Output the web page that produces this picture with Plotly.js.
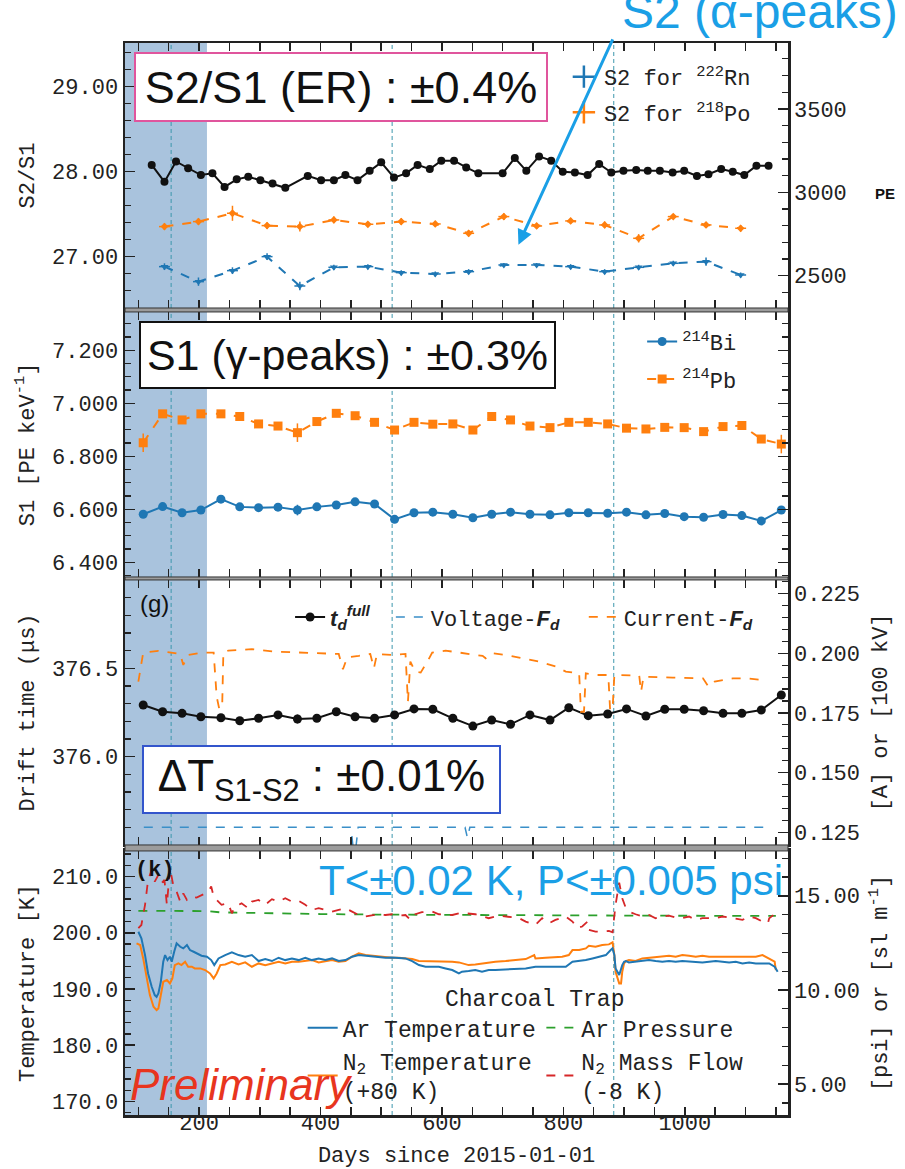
<!DOCTYPE html>
<html><head><meta charset="utf-8">
<script src="https://cdn.plot.ly/plotly-3.0.1.min.js"></script>
<style>html,body{margin:0;padding:0;background:#fff}#chart{width:905px;height:1169px}</style>
</head><body><div id="chart"></div>
<script>
// ---------- Panel 1: S2/S1 and S2 alpha peaks ----------
const ratioDays = [122,143,162,182,203,222,242,262,281,301,321,342,379,401,422,441,461,481,500,521,541,560,580,599,620,640,660,700,720,739,760,780,799,819,840,859,879,899,920,939,959,980,999,1020,1039,1060,1079,1098,1118,1138];
const ratioVals = [28.08,27.88,28.12,28.04,27.96,27.98,27.82,27.91,27.94,27.90,27.86,27.81,27.95,27.90,27.90,27.96,27.90,28.01,28.11,27.93,27.98,28.08,28.03,28.13,28.13,28.05,27.98,27.98,28.16,28.01,28.18,28.13,28.00,27.99,27.96,28.09,27.99,28.01,28.02,28.01,28.01,27.99,28.01,27.95,27.97,28.03,28.00,27.96,28.07,28.07];
const s2Days = [143,199,255,312,366,422,478,533,589,644,702,756,812,868,924,981,1035,1092];
const s2Po  = [2794,2824,2874,2800,2794,2834,2808,2824,2810,2754,2854,2798,2828,2804,2724,2854,2804,2784];
const s2PoErr = [20,20,45,20,30,20,15,20,15,20,20,15,15,20,25,15,15,20];
const s2Rn  = [2554,2464,2530,2614,2438,2550,2554,2518,2510,2524,2564,2564,2554,2524,2550,2574,2584,2504];
const s2RnErr = [20,25,20,20,25,15,15,15,15,15,12,12,15,15,15,15,25,15];

// ---------- Panel 2: S1 gamma peaks ----------
const gDays = [108,140,172,203,236,267,298,330,362,394,426,457,489,522,554,585,618,651,682,713,745,778,809,841,873,904,936,967,999,1031,1063,1094,1126,1159];
const bi214 = [6.581,6.610,6.587,6.597,6.638,6.609,6.606,6.608,6.597,6.609,6.616,6.628,6.620,6.562,6.587,6.589,6.581,6.568,6.581,6.589,6.581,6.579,6.587,6.587,6.585,6.589,6.579,6.584,6.572,6.570,6.580,6.576,6.556,6.597];
const bi214Err = [0.01,0.008,0.008,0.008,0.008,0.008,0.008,0.008,0.02,0.008,0.008,0.008,0.008,0.008,0.008,0.008,0.008,0.008,0.008,0.008,0.008,0.008,0.008,0.008,0.008,0.008,0.008,0.008,0.008,0.008,0.008,0.008,0.01,0.012];
const pb214 = [6.851,6.960,6.937,6.960,6.960,6.950,6.922,6.914,6.889,6.931,6.962,6.953,6.928,6.899,6.928,6.921,6.922,6.899,6.950,6.937,6.914,6.908,6.928,6.928,6.922,6.906,6.903,6.909,6.908,6.893,6.912,6.916,6.865,6.846];
const pb214Err = [0.035,0.01,0.01,0.01,0.01,0.01,0.01,0.01,0.035,0.01,0.01,0.01,0.01,0.012,0.01,0.01,0.01,0.01,0.01,0.01,0.01,0.01,0.01,0.01,0.01,0.01,0.01,0.01,0.01,0.01,0.01,0.01,0.015,0.035];

// ---------- Panel 3: drift time and drift field ----------
const driftTime = [376.292,376.254,376.245,376.226,376.220,376.203,376.217,376.236,376.213,376.217,376.254,376.226,376.217,376.236,376.270,376.268,376.217,376.173,376.207,376.183,376.236,376.207,376.277,376.232,376.241,376.270,376.230,376.268,376.268,376.260,376.245,376.245,376.264,376.349];
const driftErr = [0.012,0.01,0.01,0.01,0.01,0.01,0.01,0.01,0.025,0.01,0.01,0.01,0.01,0.01,0.01,0.01,0.01,0.01,0.01,0.01,0.01,0.01,0.01,0.01,0.01,0.01,0.01,0.01,0.01,0.01,0.01,0.01,0.01,0.015];
const curDays = [100,108,133,155,169,174,182,205,224,229,233,238,240,248,287,325,364,408,430,437,444,463,482,488,493,518,540,544,548,556,565,576,584,606,628,644,667,672,683,705,733,760,788,804,826,829,834,837,854,874,877,881,884,925,928,932,980,1030,1039,1049,1079,1101,1129];
const curVals = [0.1881,0.2003,0.2010,0.2003,0.1997,0.1951,0.1993,0.2003,0.2003,0.1818,0.1770,0.1770,0.2003,0.2011,0.2017,0.2007,0.2003,0.2000,0.1997,0.1933,0.1983,0.1989,0.1997,0.1937,0.1997,0.1993,0.1997,0.1797,0.1965,0.1923,0.1919,0.1965,0.2003,0.2011,0.2003,0.2000,0.1989,0.1979,0.2000,0.1993,0.1979,0.1965,0.1944,0.1923,0.1916,0.1755,0.1755,0.1916,0.1909,0.1909,0.1763,0.1763,0.1909,0.1906,0.1839,0.1902,0.1898,0.1895,0.1860,0.1881,0.1895,0.1895,0.1888];
const voltDays = [109,450,454,458,462,466,638,642,646,1134];
const voltVals = [0.1271,0.1271,0.118,0.118,0.1271,0.1271,0.1271,0.1227,0.1271,0.1271];

// ---------- Panel 4: charcoal trap ----------
const arTDays = [100,105,111,116,122,127,130,133,137,141,144,148,152,155,159,163,169,174,180,185,191,196,204,213,220,225,232,243,254,265,276,287,298,309,320,331,342,353,364,375,386,397,408,419,430,441,452,463,474,485,496,507,518,529,540,551,562,573,584,595,606,617,628,633,644,655,666,677,688,705,721,738,754,771,787,804,815,826,837,848,859,870,878,881,884,886,892,897,900,903,908,919,930,941,952,963,974,985,996,1007,1018,1029,1040,1051,1062,1073,1084,1095,1106,1117,1128,1139,1148,1153];
const arTemp = [200.18,199.0,196.03,192.77,190.4,188.92,188.62,189.22,191.29,194.85,196.03,195.14,195.74,194.85,196.62,198.11,197.51,197.22,197.81,196.92,196.62,196.33,195.91,195.74,195.14,194.25,195.44,196.03,196.51,196.03,195.74,196.03,194.97,195.32,194.97,195.56,195.14,195.44,195.14,195.56,195.14,195.44,195.14,195.44,194.97,195.14,195.74,196.03,195.91,195.74,195.68,195.56,195.62,195.56,195.44,194.97,194.25,193.96,193.96,193.96,193.66,193.37,192.77,193.07,193.19,193.37,193.07,193.37,193.37,193.48,193.66,193.66,193.96,193.96,193.96,193.96,194.85,194.97,195.14,195.44,195.74,196.03,196.92,197.22,196.03,193.66,192.48,194.25,194.85,194.97,194.73,194.85,194.97,195.14,194.97,194.85,194.97,194.85,194.97,194.85,194.85,194.73,194.85,194.97,194.85,194.73,194.85,194.55,194.73,194.55,194.55,194.55,193.96,193.07];
const n2TDays = [97,103,108,114,119,125,130,133,137,141,147,152,156,160,166,171,177,182,188,193,202,210,218,224,229,235,243,254,265,276,287,298,309,320,331,342,353,364,375,386,397,408,419,430,441,452,463,474,485,496,507,518,529,540,551,562,573,584,595,606,617,628,633,644,655,666,677,688,705,721,738,752,754,771,787,798,809,815,826,837,842,853,864,875,881,884,886,892,895,897,900,903,908,919,930,941,952,963,974,985,996,1007,1018,1029,1040,1051,1062,1073,1084,1095,1106,1117,1128,1139,1148,1150];
const n2Temp = [198.11,197.81,195.44,191.88,188.92,186.85,186.25,186.55,188.92,191.29,191.59,190.99,191.88,194.25,194.55,194.25,194.85,193.96,193.96,193.66,193.66,193.37,192.77,191.88,192.77,194.25,194.37,194.85,194.37,194.73,193.96,194.55,194.25,194.55,194.85,194.55,194.85,194.85,194.97,195.14,194.73,194.97,195.14,194.85,194.97,195.74,196.33,196.03,195.91,195.74,195.74,195.56,195.56,195.44,195.32,194.97,194.97,194.97,194.85,194.97,194.85,194.73,194.55,194.25,194.37,194.55,194.73,194.85,194.97,195.14,195.32,196.03,195.44,195.56,195.74,195.74,196.03,196.92,196.92,197.22,197.69,197.51,197.81,197.93,198.28,196.03,193.07,191.0,191.0,193.07,194.55,194.97,195.14,194.97,195.44,195.56,195.74,195.74,195.91,195.74,196.03,195.91,195.74,195.91,195.74,195.74,195.74,195.74,195.74,195.74,195.85,195.74,196.03,195.44,194.85,193.37];
const flowDays = [100,105,111,116,122,127,133,138,143,147,152,158,163,169,174,180,188,196,207,215,220,224,229,237,248,254,259,270,281,287,298,309,320,331,342,353,364,375,386,397,408,419,430,441,452,463,474,485,496,507,518,529,540,548,556,567,584,595,606,617,628,639,655,677,694,710,727,738,754,765,776,787,804,815,823,831,840,842,853,864,875,881,884,886,892,897,903,908,919,930,941,952,963,974,985,996,1007,1018,1029,1040,1051,1062,1073,1084,1095,1106,1117,1128,1137,1139,1150];
const flowVals = [13.28,13.45,14.52,15.84,16.37,15.75,16.11,15.67,15.84,14.52,16.46,15.49,15.22,14.69,15.13,14.78,14.96,14.90,15.08,15.22,15.49,14.96,14.78,14.52,14.60,14.07,14.43,14.60,14.34,14.69,14.78,14.52,14.82,14.69,14.87,14.69,14.73,14.52,14.25,14.34,14.25,14.16,14.25,14.34,14.16,13.98,13.90,13.95,14.02,13.98,14.02,13.95,13.98,13.72,14.02,14.13,14.16,14.02,13.98,13.98,14.07,14.07,14.02,13.81,13.95,13.90,13.81,13.63,13.45,13.81,13.54,13.72,13.90,13.63,13.28,13.37,13.63,13.19,13.10,13.10,13.13,13.06,13.98,14.52,15.70,14.87,14.34,14.16,14.02,13.90,13.98,13.81,13.90,13.95,13.84,13.81,13.90,13.72,13.81,13.81,13.81,13.90,13.84,13.81,13.72,13.90,13.81,13.63,13.54,13.81,14.07];
const presDays = [100,150,215,235,300,400,500,600,700,800,900,1000,1100,1150];
const presVals = [14.20,14.20,14.19,14.12,14.08,14.03,14.00,13.98,13.97,13.96,13.95,13.94,13.93,13.93];

// ---------- Marked periods ----------
const shadeDays = [78, 213];
const eventDays = [154, 518, 883];
const xRange = [78, 1170];

const mono = 'Liberation Mono, Courier New, monospace';
const sans = 'Liberation Sans, Arial, sans-serif';
const black = '#111111', orange = '#ff7f0e', blue = '#1f77b4', green = '#2ca02c', red = '#d62728';
const cyan = '#1a9fe6';
const tickFont = {family: mono, size: 22, color: '#222'};
const titleFont = {family: mono, size: 22, color: '#222'};

function xax(anchor, labels) {
  return {
    anchor: anchor, range: xRange, showgrid: false, zeroline: false,
    showline: true, linecolor: '#222', linewidth: 2.5, mirror: 'allticks',
    ticks: 'inside', ticklen: 8, tickwidth: 1.5, tickcolor: '#222',
    tick0: 0, dtick: 200, showticklabels: labels, tickfont: tickFont,
    minor: {tick0: 0, dtick: 50, ticks: 'inside', ticklen: 8, tickwidth: 1.5, tickcolor: '#222'}
  };
}
function yax(o) {
  return Object.assign({
    showgrid: false, zeroline: false, automargin: false,
    ticks: 'inside', ticklen: 10, tickwidth: 1.5, tickcolor: '#222', tickfont: tickFont
  }, o);
}
const sansFd = '<span style="font-family:Liberation Sans"><b><i>F<sub>d</sub></i></b></span>';

const traces = [
  // panel 1
  {x: ratioDays, y: ratioVals, xaxis: 'x', yaxis: 'y', mode: 'lines+markers', showlegend: false,
   line: {color: black, width: 2}, marker: {color: black, size: 8},
   error_y: {type: 'constant', value: 0.02, thickness: 1.5, width: 0, color: black}},
  {x: s2Days, y: s2Po, xaxis: 'x', yaxis: 'y2', mode: 'lines+markers', showlegend: false,
   line: {color: orange, width: 2, dash: 'dash'}, marker: {color: orange, size: 6, symbol: 'diamond'},
   error_y: {type: 'data', array: s2PoErr, thickness: 1.5, width: 0, color: orange},
   error_x: {type: 'constant', value: 9, thickness: 1.5, width: 0, color: orange}},
  {x: s2Days, y: s2Rn, xaxis: 'x', yaxis: 'y2', mode: 'lines+markers', showlegend: false,
   line: {color: blue, width: 2, dash: 'dash'}, marker: {color: blue, size: 7, symbol: 'triangle-down'},
   error_y: {type: 'data', array: s2RnErr, thickness: 1.5, width: 0, color: blue},
   error_x: {type: 'constant', value: 9, thickness: 1.5, width: 0, color: blue}},
  {x: [null], y: [null], xaxis: 'x', yaxis: 'y2', mode: 'markers', name: 'S2 for <sup>222</sup>Rn',
   legend: 'legend', legendgroup: 'rn', marker: {symbol: 'cross-thin', size: 16, line: {width: 2.5, color: blue}}},
  {x: [null], y: [null], xaxis: 'x', yaxis: 'y2', mode: 'markers', name: 'S2 for <sup>218</sup>Po',
   legend: 'legend', legendgroup: 'po', marker: {symbol: 'cross-thin', size: 16, line: {width: 2.5, color: orange}}},
  // panel 2
  {x: gDays, y: bi214, xaxis: 'x2', yaxis: 'y3', mode: 'lines+markers', name: '<sup>214</sup>Bi',
   legend: 'legend2', legendgroup: 'bi', line: {color: blue, width: 2}, marker: {color: blue, size: 9},
   error_y: {type: 'data', array: bi214Err, thickness: 1.5, width: 0, color: blue}},
  {x: gDays, y: pb214, xaxis: 'x2', yaxis: 'y3', mode: 'lines+markers', name: '<sup>214</sup>Pb',
   legend: 'legend2', legendgroup: 'pb', line: {color: orange, width: 2, dash: 'dash'}, marker: {color: orange, size: 9, symbol: 'square'},
   error_y: {type: 'data', array: pb214Err, thickness: 1.5, width: 0, color: orange}},
  // panel 3
  {x: voltDays, y: voltVals, xaxis: 'x3', yaxis: 'y5', mode: 'lines',
   name: 'Voltage-' + sansFd, legend: 'legend6', line: {color: '#3a8fc8', width: 1.5, dash: 'dash'}},
  {x: curDays, y: curVals, xaxis: 'x3', yaxis: 'y5', mode: 'lines',
   name: 'Current-' + sansFd, legend: 'legend7', line: {color: orange, width: 1.8, dash: 'dash'}},
  {x: gDays, y: driftTime, xaxis: 'x3', yaxis: 'y4', mode: 'lines+markers',
   name: '<span style="font-family:Liberation Sans"><b><i>t<sub>d</sub><sup>full</sup></i></b></span>',
   legend: 'legend3', line: {color: black, width: 2}, marker: {color: black, size: 9},
   error_y: {type: 'data', array: driftErr, thickness: 1.5, width: 0, color: black}},
  // panel 4
  {x: presDays, y: presVals, xaxis: 'x4', yaxis: 'y7', mode: 'lines', name: 'Ar Pressure',
   legend: 'legend5', legendrank: 1, line: {color: green, width: 1.8, dash: 'dash'}},
  {x: flowDays, y: flowVals, xaxis: 'x4', yaxis: 'y7', mode: 'lines', name: 'N<sub>2</sub> Mass Flow<br>(-8 K)',
   legend: 'legend5', legendrank: 2, line: {color: red, width: 1.8, dash: 'dash'}},
  {x: n2TDays, y: n2Temp, xaxis: 'x4', yaxis: 'y6', mode: 'lines', name: 'N<sub>2</sub> Temperature<br>(+80 K)',
   legend: 'legend4', legendrank: 2, line: {color: orange, width: 2}},
  {x: arTDays, y: arTemp, xaxis: 'x4', yaxis: 'y6', mode: 'lines', name: 'Ar Temperature',
   legend: 'legend4', legendrank: 1, line: {color: blue, width: 2}}
];

// panel domains in paper units
const dom1 = [0.7528, 1.0], dom2 = [0.5019, 0.7491], dom3 = [0.2519, 0.4991], dom4 = [0, 0.2463];

const shapes = [];
[['x', 'y'], ['x2', 'y3'], ['x3', 'y4'], ['x4', 'y6']].forEach(p => {
  shapes.push({type: 'rect', xref: p[0], yref: p[1] + ' domain', x0: shadeDays[0], x1: shadeDays[1], y0: 0, y1: 1,
               fillcolor: '#a9c3dd', line: {width: 0}, layer: 'below'});
  eventDays.forEach(d => shapes.push({type: 'line', xref: p[0], yref: p[1] + ' domain', x0: d, x1: d, y0: 0, y1: 1,
               line: {color: '#3c97ad', width: 1, dash: '4px,3px'}, layer: 'below'}));
});
[[dom2[1], dom1[0]], [dom3[1], dom2[0]], [dom4[1], dom3[0]]].forEach(g => {
  shapes.push({type: 'rect', xref: 'paper', yref: 'paper', x0: 0, x1: 1, y0: g[0], y1: g[1],
               fillcolor: '#9c9c9c', line: {color: '#333', width: 1}});
});

const legBase = {bgcolor: 'rgba(0,0,0,0)', borderwidth: 0, font: {family: mono, size: 22, color: '#222'},
                 xanchor: 'left', yanchor: 'top', traceorder: 'grouped', tracegroupgap: 6};
const rightMinor = {ticks: 'inside', ticklen: 6, tickwidth: 1.2, tickcolor: '#222'};

const layout = {
  width: 905, height: 1169,
  margin: {l: 125, r: 117, t: 43, b: 54},
  paper_bgcolor: '#fff', plot_bgcolor: '#fff',
  xaxis: xax('y', false), xaxis2: xax('y3', false), xaxis3: xax('y4', false),
  xaxis4: Object.assign(xax('y6', true), {ticklabelstandoff: -14,
    title: {text: 'Days since 2015-01-01', font: titleFont, standoff: 20}}),
  yaxis: yax({domain: dom1, anchor: 'x', range: [26.396, 29.514], tick0: 0, dtick: 1, tickformat: '.2f',
    showline: true, mirror: true, linecolor: '#222', linewidth: 2.5,
    minor: {dtick: 0.2, ticks: 'inside', ticklen: 6, tickwidth: 1.2, tickcolor: '#222'},
    title: {text: 'S2/S1', font: titleFont, standoff: 12}}),
  yaxis2: yax({overlaying: 'y', side: 'right', anchor: 'x', range: [2306, 3895], tick0: 0, dtick: 500, tickformat: 'd',
    ticklabelstandoff: 5, minor: Object.assign({dtick: 100}, rightMinor)}),
  yaxis3: yax({domain: dom2, anchor: 'x2', range: [6.3445, 7.3445], tick0: 0, dtick: 0.2, tickformat: '.3f',
    showline: true, mirror: 'allticks', linecolor: '#222', linewidth: 2.5,
    minor: {dtick: 0.05, ticks: 'inside', ticklen: 6, tickwidth: 1.2, tickcolor: '#222'},
    title: {text: 'S1 [PE keV<sup>-1</sup>]', font: titleFont, standoff: 12}}),
  yaxis4: yax({domain: dom3, anchor: 'x3', range: [375.5, 377.0], tickmode: 'array', tickvals: [376.0, 376.5], tickformat: '.1f',
    showline: true, mirror: true, linecolor: '#222', linewidth: 2.5,
    minor: {tickmode: 'linear', tick0: 375, dtick: 0.1, ticks: 'inside', ticklen: 6, tickwidth: 1.2, tickcolor: '#222'},
    title: {text: 'Drift time (μs)', font: titleFont, standoff: 12}}),
  yaxis5: yax({overlaying: 'y4', side: 'right', anchor: 'x3', range: [0.1197, 0.2307], tick0: 0, dtick: 0.025, tickformat: '.3f',
    ticklabelstandoff: 5, minor: Object.assign({dtick: 0.005}, rightMinor),
    title: {text: '[A] or [100 kV]', font: titleFont, standoff: 12}}),
  yaxis6: yax({domain: dom4, anchor: 'x4', range: [167.6, 214.54], tick0: 0, dtick: 10, tickformat: '.1f',
    showline: true, mirror: true, linecolor: '#222', linewidth: 2.5,
    minor: {dtick: 2, ticks: 'inside', ticklen: 6, tickwidth: 1.2, tickcolor: '#222'},
    title: {text: 'Temperature [K]', font: titleFont, standoff: 12}}),
  yaxis7: yax({overlaying: 'y6', side: 'right', anchor: 'x4', range: [3.36, 17.38], tick0: 0, dtick: 5, tickformat: '.2f',
    ticklabelstandoff: 5, minor: Object.assign({dtick: 1}, rightMinor),
    title: {text: '[psi] or [sl m<sup>-1</sup>]', font: titleFont, standoff: 12}}),
  legend:  Object.assign({}, legBase, {x: 0.662, y: 0.988, tracegroupgap: 4}),
  legend2: Object.assign({}, legBase, {x: 0.78, y: 0.741, tracegroupgap: 6}),
  legend3: Object.assign({}, legBase, {x: 0.249, y: 0.484}),
  legend6: Object.assign({}, legBase, {x: 0.401, y: 0.484}),
  legend7: Object.assign({}, legBase, {x: 0.692, y: 0.484}),
  legend4: Object.assign({}, legBase, {x: 0.268, y: 0.1015, font: {family: mono, size: 23, color: '#222'}, tracegroupgap: 0}),
  legend5: Object.assign({}, legBase, {x: 0.628, y: 0.1015, font: {family: mono, size: 23, color: '#222'}, tracegroupgap: 0}),
  shapes: shapes,
  annotations: [
    {xref: 'paper', yref: 'paper', x: 0.7466, y: 1.029, xanchor: 'left', yanchor: 'middle', showarrow: false,
     text: 'S2 (α-peaks)', font: {family: sans, size: 48, color: cyan}},
    {xref: 'x', yref: 'y', x: 726, y: 27.14, ax: 95, ay: -207, text: '', showarrow: true,
     arrowcolor: cyan, arrowwidth: 3, arrowhead: 2, arrowsize: 1},
    {xref: 'paper', yref: 'paper', x: 0.3258, y: 0.9594, xanchor: 'center', yanchor: 'middle', showarrow: false,
     text: 'S2/S1 (ER) : ±0.4%', font: {family: sans, size: 45, color: '#111'},
     bgcolor: '#fff', bordercolor: '#e0559d', borderwidth: 2, borderpad: 2, width: 406, height: 62},
    {xref: 'paper', yref: 'paper', x: 0.3356, y: 0.709, xanchor: 'center', yanchor: 'middle', showarrow: false,
     text: 'S1 (γ-peaks) : ±0.3%', font: {family: sans, size: 43, color: '#111'},
     bgcolor: '#fff', bordercolor: '#111', borderwidth: 2, borderpad: 2, width: 409, height: 60},
    {xref: 'paper', yref: 'paper', x: 0.2964, y: 0.313, xanchor: 'center', yanchor: 'middle', showarrow: false,
     text: 'ΔT<sub>S1-S2</sub> : ±0.01%', font: {family: sans, size: 44, color: '#111'},
     bgcolor: '#fff', bordercolor: '#3355cc', borderwidth: 2, borderpad: 2, width: 351, height: 61},
    {xref: 'paper', yref: 'paper', x: 0.9955, y: 0.2192, xanchor: 'right', yanchor: 'middle', showarrow: false,
     text: 'T<±0.02 K, P<±0.005 psi', font: {family: sans, size: 42, color: cyan}},
    {xref: 'paper', yref: 'paper', x: 0.004, y: 0.028, xanchor: 'left', yanchor: 'middle', showarrow: false,
     text: '<i>Preliminary</i>', font: {family: sans, size: 44, color: '#e8351e'}},
    {xref: 'paper', yref: 'paper', x: 0.045, y: 0.4776, xanchor: 'center', yanchor: 'middle', showarrow: false,
     text: '(g)', font: {family: sans, size: 24, color: '#111'}},
    {xref: 'paper', yref: 'paper', x: 0.045, y: 0.2285, xanchor: 'center', yanchor: 'middle', showarrow: false,
     text: '<b>(k)</b>', font: {family: mono, size: 22, color: '#111'}},
    {xref: 'paper', yref: 'paper', x: 1.146, y: 0.860, xanchor: 'center', yanchor: 'middle', showarrow: false,
     text: '<b>PE</b>', font: {family: sans, size: 15, color: '#111'}},
    {xref: 'paper', yref: 'paper', x: 0.618, y: 0.107, xanchor: 'center', yanchor: 'middle', showarrow: false,
     text: 'Charcoal Trap', font: {family: mono, size: 23, color: '#222'}}
  ]
};

Plotly.newPlot('chart', traces, layout, {staticPlot: true, displayModeBar: false});
</script></body></html>
